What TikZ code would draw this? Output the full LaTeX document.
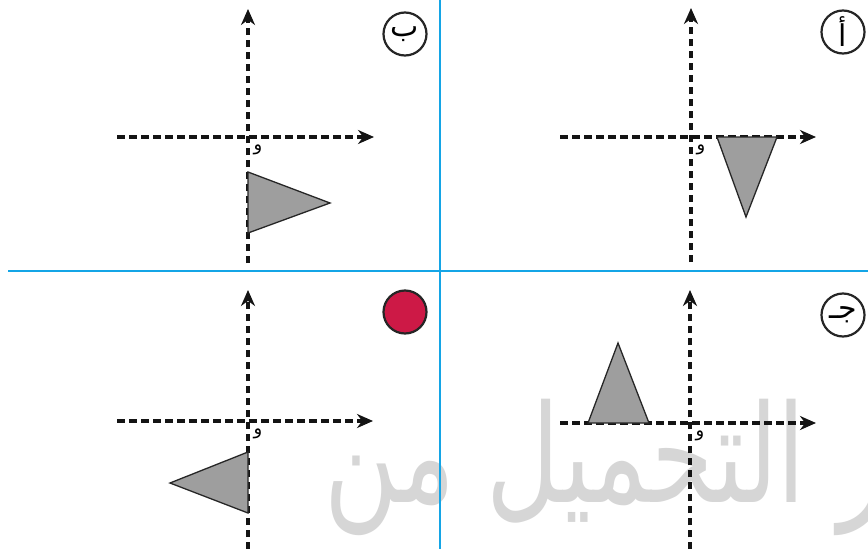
\documentclass[tikz,border=0pt]{standalone}
\usepackage{fontspec}
\usetikzlibrary{arrows.meta}
\newfontfamily\arabicfont[Script=Arabic]{DejaVu Sans}
\TeXXeTstate=1
\definecolor{bluel}{RGB}{20,165,230}
\definecolor{trifill}{RGB}{158,158,158}
\definecolor{scrib}{RGB}{205,25,70}
\begin{document}
\begin{tikzpicture}[x=1pt,y=-1pt,
  axis/.style={line width=3.3, dash pattern=on 7.5 off 4.5, draw=black!92, -{Stealth[length=16,width=14]}},
  tri/.style={draw=black!85, line width=1.3, fill=trifill},
  lbl/.style={circle, draw=black!85, line width=2.2, minimum size=43, inner sep=0pt, font=\arabicfont\fontsize{30}{30}\selectfont},
  orig/.style={inner sep=0pt, font=\arabicfont\fontsize{18}{18}\selectfont},
  blueline/.style={draw=bluel, line width=1.6},
  wm/.style={inner sep=0pt, text=black!16, font=\arabicfont\fontsize{136}{136}\selectfont}]
\useasboundingbox (0,0) rectangle (868,549);
\fill[white] (0,0) rectangle (868,549);
% watermark
\begin{scope}
\clip (0,0) rectangle (868,549);
\node[wm, anchor=base east] (wmark) at (806,502) {\scalebox{0.74}[1]{\beginR التحميل من\endR}};
\node[wm, anchor=base west] (wmark2) at (838,502) {\scalebox{0.74}[1]{\beginR ر\endR}};
\end{scope}
% dividing lines
\coordinate (vt) at (440,0); \coordinate (vb) at (440,549);
\coordinate (hl) at (8,271); \coordinate (hr) at (868,271);
\draw[blueline] (vt) -- (vb);
\draw[blueline] (hl) -- (hr);
% panel B (top-left)
\coordinate (bYs) at (248,263); \coordinate (bYe) at (248,9);
\coordinate (bXs) at (117,137); \coordinate (bXe) at (374,137);
\draw[axis] (bYs) -- (bYe);
\draw[axis] (bXs) -- (bXe);
\coordinate (b1) at (248,172); \coordinate (b2) at (248,233); \coordinate (b3) at (330,203);
\draw[tri] (b1) -- (b2) -- (b3) -- cycle;
\node[orig] (bO) at (258,150) {\beginR و\endR};
\node[lbl] (bL) at (405,34) {\beginR ب\endR};
% panel A (top-right)
\coordinate (aYs) at (691,262); \coordinate (aYe) at (691,8);
\coordinate (aXs) at (560,137); \coordinate (aXe) at (816,137);
\draw[axis] (aYs) -- (aYe);
\draw[axis] (aXs) -- (aXe);
\coordinate (a1) at (717,137); \coordinate (a2) at (777,137); \coordinate (a3) at (746,217);
\draw[tri] (a1) -- (a2) -- (a3) -- cycle;
\node[orig] (aO) at (701,150) {\beginR و\endR};
\node[lbl] (aL) at (843,32) {\beginR أ\endR};
% panel C (bottom-right)
\coordinate (cYs) at (690,549); \coordinate (cYe) at (690,290);
\coordinate (cXs) at (560,423); \coordinate (cXe) at (816,423);
\draw[axis] (cYs) -- (cYe);
\draw[axis] (cXs) -- (cXe);
\coordinate (c1) at (588,423); \coordinate (c2) at (649,423); \coordinate (c3) at (618,343);
\draw[tri] (c1) -- (c2) -- (c3) -- cycle;
\node[orig] (cO) at (700,436) {\beginR و\endR};
\node[lbl] (cL) at (843,315) {\beginR جـ\endR};
% panel D (bottom-left)
\coordinate (dYs) at (248,549); \coordinate (dYe) at (248,290);
\coordinate (dXs) at (117,421); \coordinate (dXe) at (373,421);
\draw[axis] (dYs) -- (dYe);
\draw[axis] (dXs) -- (dXe);
\coordinate (d1) at (248,452); \coordinate (d2) at (248,513); \coordinate (d3) at (170,483);
\draw[tri] (d1) -- (d2) -- (d3) -- cycle;
\node[orig] (dO) at (258,434) {\beginR و\endR};
\node[lbl, fill=scrib] (dL) at (405,312) {};
\end{tikzpicture}
\end{document}
